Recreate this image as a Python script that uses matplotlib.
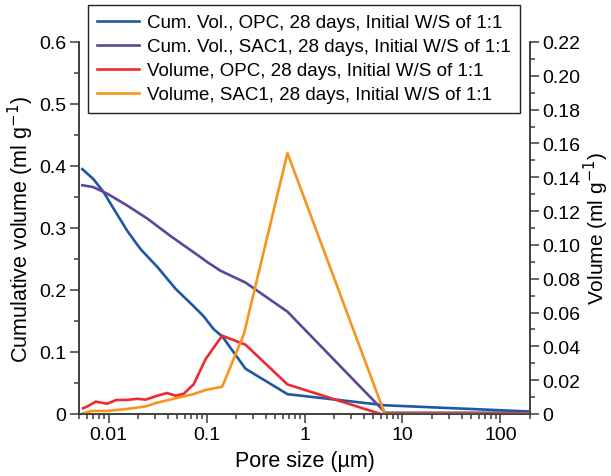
import matplotlib
matplotlib.use("Agg")
from matplotlib import pyplot as plt
from matplotlib.ticker import FuncFormatter, MultipleLocator, LogLocator, NullFormatter

plt.rcParams["font.family"] = ["Liberation Sans", "DejaVu Sans"]

# cumulative intrusion volume (left axis, ml/g)
opc_cum_x = [0.0054, 0.0070, 0.0089, 0.0113, 0.0156, 0.0212, 0.0316, 0.0483, 0.0737, 0.093, 0.118, 0.145, 0.25, 0.67, 6.7, 200]
opc_cum_y = [0.395, 0.379, 0.358, 0.331, 0.295, 0.266, 0.237, 0.202, 0.174, 0.158, 0.137, 0.125, 0.073, 0.032, 0.014, 0.004]

sac_cum_x = [0.0054, 0.0070, 0.0098, 0.0156, 0.025, 0.043, 0.0737, 0.102, 0.139, 0.25, 0.67, 6.7, 200]
sac_cum_y = [0.369, 0.366, 0.355, 0.336, 0.315, 0.287, 0.261, 0.245, 0.231, 0.212, 0.165, 0.002, 0.002]

# incremental volume (right axis, ml/g)
opc_vol_x = [0.0055, 0.0061, 0.0074, 0.0097, 0.012, 0.0155, 0.0196, 0.0239, 0.0314, 0.0397, 0.0483, 0.0587, 0.0742, 0.098, 0.1445, 0.25, 0.67, 6.0, 200]
opc_vol_y = [0.0034, 0.0045, 0.0073, 0.0061, 0.0083, 0.0083, 0.0090, 0.0085, 0.0108, 0.0124, 0.0108, 0.0120, 0.0177, 0.0325, 0.0463, 0.0410, 0.0175, 0.0, 0.0]

sac_vol_x = [0.0055, 0.0067, 0.0097, 0.0155, 0.0239, 0.0314, 0.0483, 0.0742, 0.0977, 0.1445, 0.24, 0.67, 6.6, 200]
sac_vol_y = [0.0004, 0.0018, 0.0018, 0.0030, 0.0045, 0.0067, 0.0093, 0.0118, 0.0142, 0.0161, 0.047, 0.1543, 0.0, 0.0]

labels = [
    "Cum. Vol., OPC, 28 days, Initial W/S of 1:1",
    "Cum. Vol., SAC1, 28 days, Initial W/S of 1:1",
    "Volume, OPC, 28 days, Initial W/S of 1:1",
    "Volume, SAC1, 28 days, Initial W/S of 1:1",
]
colors = ["#1f56a5", "#5a479c", "#ec2a2f", "#f7941e"]

axis_col = "#3a3a3a"

fig = plt.figure(figsize=(6.11, 4.77), dpi=100)
ax = fig.add_axes([79 / 611, 1 - 415 / 477, (530 - 79) / 611, (415 - 43) / 477])
ax2 = ax.twinx()

l1, = ax.plot(opc_cum_x, opc_cum_y, color=colors[0], lw=1.9, label=labels[0])
l2, = ax.plot(sac_cum_x, sac_cum_y, color=colors[1], lw=1.9, label=labels[1])
l3, = ax2.plot(opc_vol_x, opc_vol_y, color=colors[2], lw=1.9, label=labels[2])
l4, = ax2.plot(sac_vol_x, sac_vol_y, color=colors[3], lw=1.9, label=labels[3])

ax.set_xscale("log")
ax.set_xlim(0.005, 200)
ax.set_ylim(0, 0.6)
ax2.set_ylim(0, 0.22)

ax.xaxis.set_major_locator(LogLocator(base=10, numticks=10))
ax.xaxis.set_minor_locator(LogLocator(base=10, subs=range(2, 10), numticks=20))
ax.xaxis.set_minor_formatter(NullFormatter())
ax.xaxis.set_major_formatter(FuncFormatter(lambda v, p: "%g" % v))

ax.yaxis.set_major_locator(MultipleLocator(0.1))
ax.yaxis.set_minor_locator(MultipleLocator(0.05))
ax.yaxis.set_major_formatter(FuncFormatter(lambda v, p: "%g" % round(v, 3)))

ax2.yaxis.set_major_locator(MultipleLocator(0.02))
ax2.yaxis.set_minor_locator(MultipleLocator(0.01))
ax2.yaxis.set_major_formatter(FuncFormatter(lambda v, p: "0" if abs(v) < 1e-9 else "%.2f" % v))

for a in (ax, ax2):
    a.spines["top"].set_visible(False)
    for s in a.spines.values():
        s.set_color(axis_col)
        s.set_linewidth(1.1)
    a.tick_params(which="both", direction="out", color=axis_col, width=1.1, labelsize=14, labelcolor="black")
    a.tick_params(which="major", length=6.5, pad=2.5)
    a.tick_params(which="minor", length=3.5)
    a.patch.set_visible(False)

ax.set_xlabel("Pore size (µm)", fontsize=15.5, labelpad=5)
ax.set_ylabel("Cumulative volume (ml g$^{-1}$)", fontsize=15.5)
ax2.set_ylabel("Volume (ml g$^{-1}$)", fontsize=15)
ax.yaxis.set_label_coords(-0.095, 0.5)
ax2.yaxis.set_label_coords(1.114, 0.5)

leg = ax2.legend(
    handles=[l1, l2, l3, l4],
    loc="upper left",
    bbox_to_anchor=(88 / 611, 1 - 6 / 477),
    bbox_transform=fig.transFigure,
    borderaxespad=0,
    fontsize=13.5,
    frameon=True,
    fancybox=False,
    framealpha=1,
    handlelength=2.2,
    handletextpad=0.45,
    labelspacing=0.36,
    borderpad=0.5,
)
leg.get_frame().set_edgecolor("#222222")
leg.get_frame().set_linewidth(1.0)
leg.set_zorder(10)

fig.savefig("out.png", dpi=100)
